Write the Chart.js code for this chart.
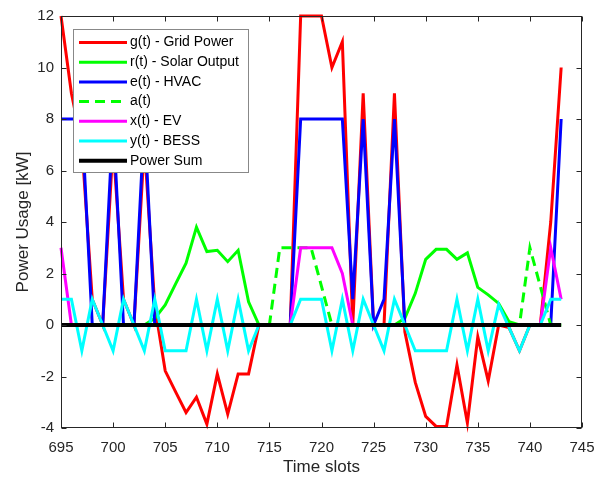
<!DOCTYPE html>
<html>
<head>
    <title>Power Usage</title>
    <script src="https://cdn.jsdelivr.net/npm/chart.js"></script>
    <style>
        body { margin: 0; background: #fff; }
        canvas { display: block; }
    </style>
</head>
<body>
    <canvas id="powerChart" width="608" height="478"></canvas>

    <script>
        // time slots on the x axis
        const slots = [695, 696, 697, 698, 699, 700, 701, 702, 703, 704,
                       705, 706, 707, 708, 709, 710, 711, 712, 713, 714,
                       715, 716, 717, 718, 719, 720, 721, 722, 723, 724,
                       725, 726, 727, 728, 729, 730, 731, 732, 733, 734,
                       735, 736, 737, 738, 739, 740, 741, 742, 743];

        const gridPower = [12, 9, 7, 1, 0, 7, 1, 0, 7, 0.74,
                           -1.78, -2.6, -3.4, -2.8, -3.85, -1.9, -3.46, -1.9, -1.9, 0,
                           0, 0, 0, 12, 12, 12, 10, 11, 0, 9,
                           0, 0, 9, -0.26, -2.23, -3.55, -3.94, -3.94, -1.55, -3.8,
                           -0.46, -2.17, 0, -0.1, -1, 0, 0, 4, 10];

        const solarOutput = [0, 0, 0, 0, 0, 0, 0, 0, 0, 0.26,
                             0.78, 1.6, 2.4, 3.8, 2.85, 2.9, 2.46, 2.9, 0.9, 0,
                             0, 0, 0, 0, 0, 0, 0, 0, 0, 0,
                             0, 0, 0, 0.26, 1.23, 2.55, 2.94, 2.94, 2.55, 2.8,
                             1.46, 1.17, 0.84, 0.13, 0, 0, 0, 0, 0];

        const hvac = [8, 8, 8, 0, 0, 8, 0, 0, 8, 0,
                      0, 0, 0, 0, 0, 0, 0, 0, 0, 0,
                      0, 0, 0, 8, 8, 8, 8, 8, 1, 8,
                      0, 1, 8, 0, 0, 0, 0, 0, 0, 0,
                      0, 0, 0, 0, 0, 0, 0, 0, 8];

        const aSignal = [0, 0, 0, 0, 0, 0, 0, 0, 0, 0,
                         0, 0, 0, 0, 0, 0, 0, 0, 0, 0,
                         0, 3, 3, 3, 3, 1.5, 0, 0, 0, 0,
                         0, 0, 0, 0, 0, 0, 0, 0, 0, 0,
                         0, 0, 0, 0, 0, 3, 1.5, 0, 0];

        const ev = [3, 0, 0, 0, 0, 0, 0, 0, 0, 0,
                    0, 0, 0, 0, 0, 0, 0, 0, 0, 0,
                    0, 0, 0, 3, 3, 3, 3, 2, 0, 0,
                    0, 0, 0, 0, 0, 0, 0, 0, 0, 0,
                    0, 0, 0, 0, 0, 0, 0, 3, 1];

        const bess = [1, 1, -1, 1, 0, -1, 1, 0, -1, 1,
                      -1, -1, -1, 1, -1, 1, -1, 1, -1, 0,
                      0, 0, 0, 1, 1, 1, -1, 1, -1, 1,
                      0, -1, 1, 0, -1, -1, -1, -1, 1, -1,
                      1, -1, 0.8, -0.1, -1, 0, 0, 1, 1];

        const powerSum = [0, 0, 0, 0, 0, 0, 0, 0, 0, 0,
                          0, 0, 0, 0, 0, 0, 0, 0, 0, 0,
                          0, 0, 0, 0, 0, 0, 0, 0, 0, 0,
                          0, 0, 0, 0, 0, 0, 0, 0, 0, 0,
                          0, 0, 0, 0, 0, 0, 0, 0, 0];

        const xTicks = { min: 695, max: 745, step: 5 };
        const yTicks = { min: -4, max: 12, step: 2 };

        Chart.defaults.font.family = '"Liberation Sans", Arial, Helvetica, sans-serif';
        Chart.defaults.color = '#262626';

        function makeSet(label, values, color, width, dash, order) {
            return {
                label: label,
                data: slots.map((t, i) => ({ x: t, y: values[i] })),
                borderColor: color,
                backgroundColor: color,
                borderWidth: width,
                borderDash: dash,
                pointRadius: 0,
                tension: 0,
                fill: false,
                clip: 6,
                order: order
            };
        }

        // legend box drawn inside the plot, top-left (matlab style)
        const boxLegend = {
            id: 'boxLegend',
            afterDatasetsDraw(chart) {
                const ctx = chart.ctx;
                ctx.save();
                ctx.fillStyle = '#fff';
                ctx.fillRect(73.5, 29.5, 175, 143);
                ctx.strokeStyle = '#888';
                ctx.lineWidth = 1;
                ctx.strokeRect(73.5, 29.5, 175, 143);
                ctx.font = '14px "Liberation Sans", Arial, sans-serif';
                ctx.textBaseline = 'middle';
                chart.data.datasets.forEach((ds, i) => {
                    const y = 42.5 + i * 19.7;
                    ctx.beginPath();
                    ctx.setLineDash(ds.borderDash);
                    ctx.strokeStyle = ds.borderColor;
                    ctx.lineWidth = ds.borderWidth;
                    ctx.moveTo(79, y);
                    ctx.lineTo(127, y);
                    ctx.stroke();
                    ctx.setLineDash([]);
                    ctx.fillStyle = '#000';
                    ctx.fillText(ds.label, 130, y);
                });
                ctx.restore();
            }
        };

        // box around the axes with inward ticks on all four sides
        const boxFrame = {
            id: 'boxFrame',
            afterDraw(chart) {
                const { ctx, chartArea: a, scales } = chart;
                const L = Math.round(a.left) + 0.5, R = Math.round(a.right) - 0.5;
                const T = Math.round(a.top) + 0.5, B = Math.round(a.bottom) - 0.5;
                ctx.save();
                ctx.strokeStyle = '#262626';
                ctx.lineWidth = 1;
                ctx.strokeRect(L, T, R - L, B - T);
                ctx.beginPath();
                scales.x.ticks.forEach(tk => {
                    const px = Math.round(scales.x.getPixelForValue(tk.value)) + 0.5;
                    ctx.moveTo(px, B); ctx.lineTo(px, B - 5);
                    ctx.moveTo(px, T); ctx.lineTo(px, T + 5);
                });
                scales.y.ticks.forEach(tk => {
                    const py = Math.round(scales.y.getPixelForValue(tk.value)) + 0.5;
                    ctx.moveTo(L, py); ctx.lineTo(L + 5, py);
                    ctx.moveTo(R, py); ctx.lineTo(R - 5, py);
                });
                ctx.stroke();
                ctx.restore();
            }
        };

        const ctx = document.getElementById('powerChart').getContext('2d');
        const chart = new Chart(ctx, {
            type: 'line',
            data: {
                datasets: [
                    makeSet('g(t) - Grid Power', gridPower, '#ff0000', 3, [], 6),
                    makeSet('r(t) - Solar Output', solarOutput, '#00ff00', 3, [], 5),
                    makeSet('e(t) - HVAC', hvac, '#0000ff', 3, [], 4),
                    makeSet('a(t)', aSignal, '#00ff00', 3, [10, 6], 3),
                    makeSet('x(t) - EV', ev, '#ff00ff', 3, [], 2),
                    makeSet('y(t) - BESS', bess, '#00ffff', 3, [], 1),
                    makeSet('Power Sum', powerSum, '#000000', 4, [], 0)
                ]
            },
            options: {
                responsive: false,
                animation: false,
                layout: { padding: { top: 16, right: 26, left: 0, bottom: 0 } },
                plugins: {
                    legend: { display: false },
                    tooltip: { enabled: false }
                },
                scales: {
                    x: {
                        type: 'linear',
                        min: xTicks.min,
                        max: xTicks.max,
                        ticks: { stepSize: xTicks.step, font: { size: 15 }, padding: 11, maxRotation: 0 },
                        grid: { display: false, drawTicks: false },
                        border: { display: false },
                        title: { display: true, text: 'Time slots', font: { size: 17 }, padding: { top: 0, bottom: 0 } },
                        afterFit: s => { s.height = 50; }
                    },
                    y: {
                        min: yTicks.min,
                        max: yTicks.max,
                        ticks: { stepSize: yTicks.step, font: { size: 15 }, padding: 7 },
                        grid: { display: false, drawTicks: false },
                        border: { display: false },
                        title: { display: true, text: 'Power Usage [kW]', font: { size: 17 }, padding: { top: 13, bottom: 0 } },
                        afterFit: s => { s.width = 61; }
                    }
                }
            },
            plugins: [boxLegend, boxFrame]
        });
    </script>
</body>
</html>
